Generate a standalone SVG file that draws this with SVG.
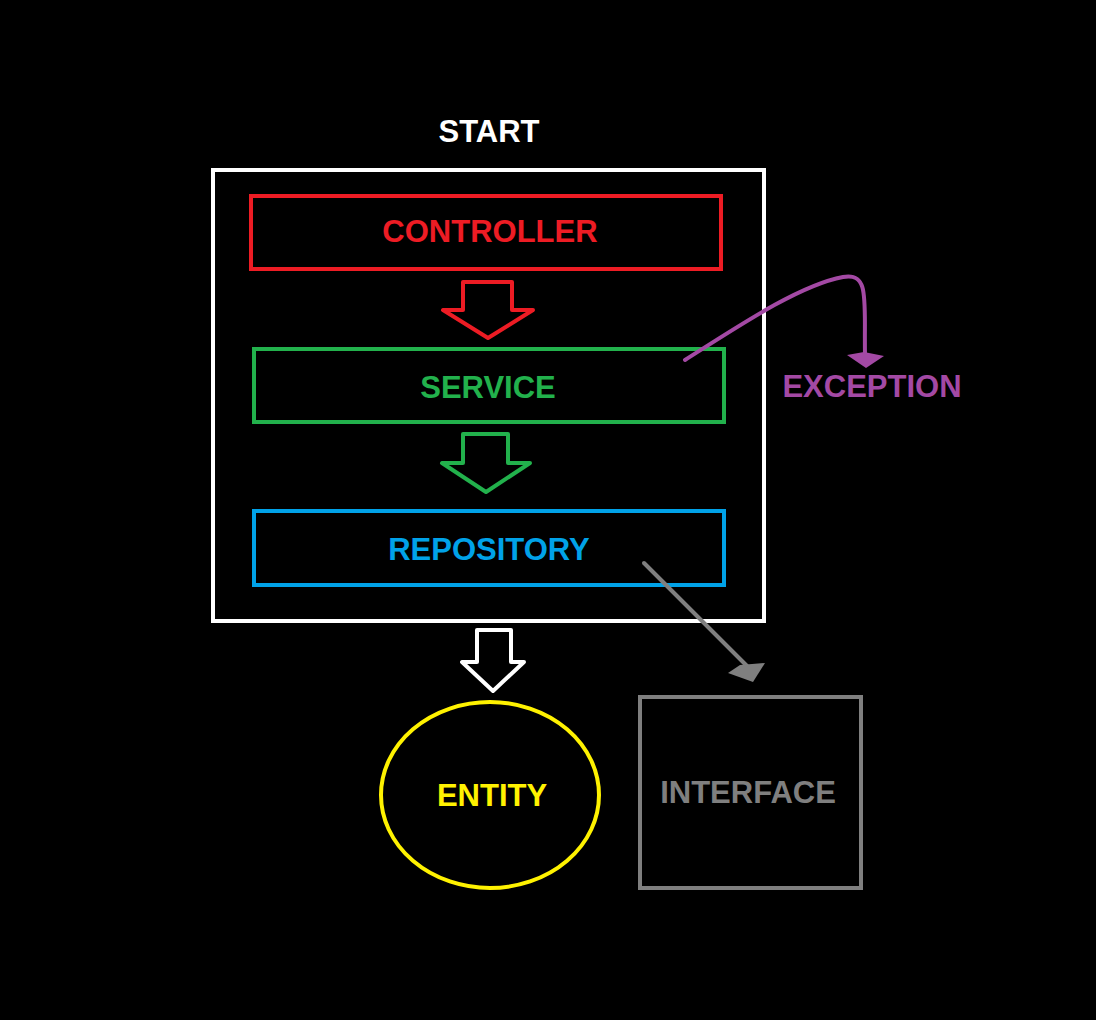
<svg xmlns="http://www.w3.org/2000/svg" width="1096" height="1020" viewBox="0 0 1096 1020">
<style>
text{font-family:"Liberation Sans",Arial,sans-serif;font-weight:bold;font-size:31px;text-anchor:middle}
.box{fill:none;stroke-width:4}
.arr{fill:none;stroke-width:4;stroke-linejoin:round}
</style>
<rect width="1096" height="1020" fill="#000"/>
<g id="start">
<text x="489" y="142" fill="#fff">START</text>
<rect x="213" y="170" width="551" height="451" class="box" stroke="#fff"/>
</g>
<g id="controller">
<rect x="251" y="196" width="470" height="73" class="box" stroke="#ed1c24"/>
<text x="490" y="242" fill="#ed1c24">CONTROLLER</text>
</g>
<g id="service">
<rect x="254" y="349" width="470" height="73" class="box" stroke="#22b14c"/>
<text x="488" y="398" fill="#22b14c">SERVICE</text>
</g>
<g id="repository">
<rect x="254" y="511" width="470" height="74" class="box" stroke="#00a2e8"/>
<text x="489" y="560" fill="#00a2e8">REPOSITORY</text>
</g>
<g id="exception">
<text x="872" y="397" fill="#a349a4">EXCEPTION</text>
</g>
<g id="entity">
<ellipse cx="490" cy="795" rx="109" ry="93" class="box" stroke="#fff200"/>
<text x="492" y="806" fill="#fff200">ENTITY</text>
</g>
<g id="interface">
<rect x="640" y="697" width="221" height="191" class="box" stroke="#7f7f7f"/>
<text x="748" y="803" fill="#7f7f7f">INTERFACE</text>
</g>
<g id="connectors">
<path class="arr" stroke="#ed1c24" d="M463,282 H512 V310 H533 L488,338 L443,310 H463 Z"/>
<path class="arr" stroke="#22b14c" d="M463,434 H508 V463 H530 L486,492 L442,463 H463 Z"/>
<path class="arr" stroke="#fff" d="M477,630 H511 V662 H524 L493,691 L462,662 H477 Z"/>
<path fill="none" stroke="#a349a4" stroke-width="4" stroke-linecap="round" d="M685,360 C740,325 800,285 843,277 C870,272 864,300 865,355"/>
<path fill="#a349a4" d="M847,355 L864,352 L884,356 L866,368 Z"/>
<path fill="none" stroke="#7f7f7f" stroke-width="4" stroke-linecap="round" d="M644,563 L748,667"/>
<path fill="#7f7f7f" d="M728,673 L740,665 L765,663 L753,682 Z"/>
</g>
</svg>
